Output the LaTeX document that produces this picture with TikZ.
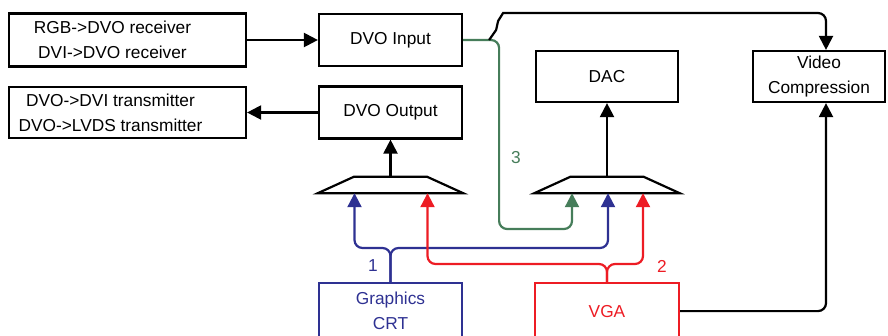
\documentclass[tikz,border=0pt]{standalone}
\usepackage{fontspec}
\setmainfont{Liberation Sans}
\usetikzlibrary{shapes.geometric, arrows.meta, positioning, calc}
\definecolor{crtblue}{HTML}{2E3192}
\definecolor{vgared}{HTML}{ED1C24}
\definecolor{loopgreen}{HTML}{467D5A}
\tikzset{
  blk/.style={rectangle, draw=black, line width=2.2pt, align=center,
    inner sep=0pt, font=\fontsize{17.3}{25}\selectfont},
  txt/.style={align=center, inner sep=0pt, font=\fontsize{17.3}{25}\selectfont},
  mux/.style={rectangle, minimum width=145pt, minimum height=16pt, inner sep=0pt},
  muxline/.style={draw=black, line width=2.2pt, line join=miter},
  ar/.style={-{Triangle[length=14pt, width=14pt]}, line width=2.2pt},
  bus/.style={ar, rounded corners=8pt},
  num/.style={font=\fontsize{17.3}{25}\selectfont, inner sep=0pt},
}

\begin{document}
\begin{tikzpicture}[x=1pt, y=-1pt]
  \useasboundingbox (0,0) rectangle (888,335);
  \clip (0,0) rectangle (888,335);

  % external encoder / decoder chips
  \node[blk, minimum width=237pt, minimum height=53pt] (rx) at (127.5,40) {};
  \node[txt] (rxtext) at ([xshift=-15]rx.center)
    {RGB->DVO receiver\\DVI->DVO receiver};
  \node[blk, minimum width=237pt, minimum height=51pt] (tx) at (127.5,112.5) {};
  \node[txt] (txtext) at ([xshift=-17]tx.center)
    {DVO->DVI transmitter\\DVO->LVDS transmitter};

  \node[blk, minimum width=143pt, minimum height=52pt] (dvoin) at (390.5,40) {DVO Input};
  \node[blk, minimum width=143pt, minimum height=52pt] (dvoout) at (390.5,112.5) {DVO Output};
  \node[blk, minimum width=142pt, minimum height=51pt] (dac) at (607,76.5) {DAC};
  \node[blk, minimum width=132pt, minimum height=51pt] (vc) at (819,76.5) {Video\\Compression};

  % display sources
  \node[blk, draw=crtblue, text=crtblue, minimum width=143pt, minimum height=56pt,
        anchor=north] (gfx) at (390.5,282) {Graphics\\CRT};
  \node[blk, draw=vgared, text=vgared, minimum width=144pt, minimum height=56pt,
        anchor=north] (vga) at (607,282) {VGA};

  % muxes
  \node[mux] (mux1) at (390.5,185) {};
  \node[mux] (mux2) at (607,185) {};
  \foreach \m in {mux1, mux2}
    \draw[muxline] (\m.south west) -- (\m.south east) -- ([xshift=-36]\m.north east)
      -- ([xshift=36]\m.north west) -- cycle;

  \draw[ar] (rx.east) -- (dvoin.west);
  \draw[ar] (dvoout.west) -- (tx.east);
  \draw[ar] (mux1.north) -- (dvoout.south);
  \draw[ar] (mux2.north) -- (dac.south);

  \draw[bus, loopgreen] (dvoin.east) -- ++(36,0) -- ++(0,189) -| ([xshift=-35]mux2.south);
  \draw[ar] ([xshift=26]dvoin.east) -- ++(7,-10) -- ++(2,-9) -- ++(5,-8)
    [rounded corners=8pt] -| ([xshift=7]vc.north);
  \draw[bus] (vga.east) -| ([xshift=7]vc.south);

  \draw[bus, crtblue] (gfx.north) -- ++(0,-34) -| ([xshift=-36]mux1.south);
  \draw[bus, crtblue] (gfx.north) -- ++(0,-34) -| ([xshift=1]mux2.south);
  \draw[bus, vgared] (vga.north) -- ++(0,-18) -| ([xshift=37]mux1.south);
  \draw[bus, vgared] (vga.north) -- ++(0,-18) -| ([xshift=36]mux2.south);

  \node[num, crtblue] (one) at (373,266) {1};
  \node[num, vgared] (two) at (662,266) {2};
  \node[num, loopgreen] (three) at (516,158) {3};
\end{tikzpicture}
\end{document}
